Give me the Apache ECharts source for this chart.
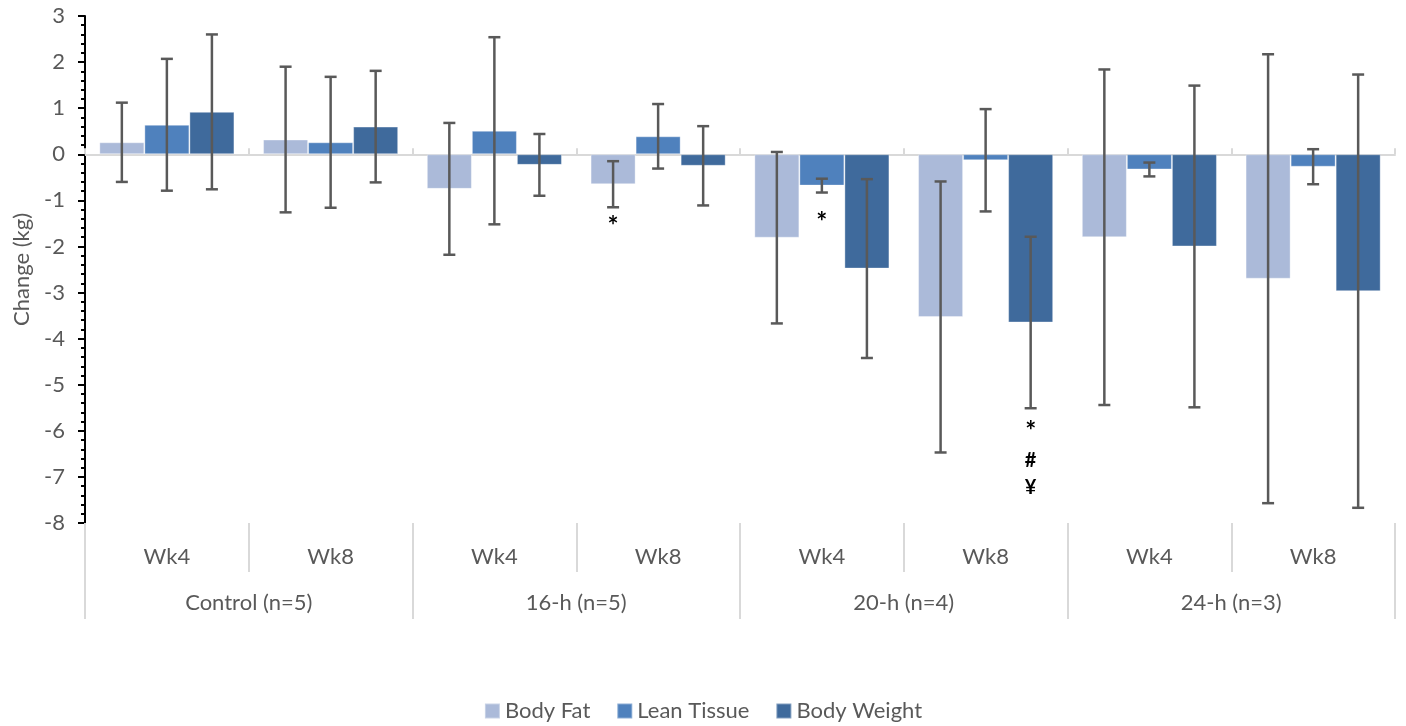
<!DOCTYPE html>
<html><head><meta charset="utf-8">
<script src="https://cdn.jsdelivr.net/npm/echarts@6/dist/echarts.min.js"></script>
<style>html,body{margin:0;padding:0;background:#fff}#c{width:1406px;height:726px}</style>
</head><body><div id="c"></div>
<script>
const weeks = ['Wk4','Wk8','Wk4','Wk8','Wk4','Wk8','Wk4','Wk8'];
const groups = ['Control (n=5)','16-h (n=5)','20-h (n=4)','24-h (n=3)'];
const seriesNames = ['Body Fat','Lean Tissue','Body Weight'];
const bodyFat      = [0.26, 0.32, -0.75, -0.65, -1.81, -3.53, -1.80, -2.70];
const bodyFatSD    = [0.86, 1.58,  1.43,  0.50,  1.86,  2.94,  3.64,  4.87];
const leanTissue   = [0.64, 0.26,  0.51,  0.39, -0.68, -0.13, -0.33, -0.27];
const leanTissueSD = [1.43, 1.42,  2.03,  0.70,  0.15,  1.11,  0.15,  0.38];
const bodyWeight   = [0.92, 0.60, -0.23, -0.25, -2.48, -3.65, -2.00, -2.97];
const bodyWeightSD = [1.68, 1.21,  0.67,  0.86,  1.94,  1.86,  3.49,  4.70];
const yMin = -8, yMax = 3, yStep = 1;
// [category index, series index, text, y value]
const annotations = [
  [3, 0, '*', -1.46],
  [4, 1, '*', -1.36],
  [5, 2, '*', -5.91],
  [5, 2, '#', -6.65],
  [5, 2, '¥', -7.23]
];

const FONT = 'Lato';
const TXT = '#595959';
const colors = ['#abbad9', '#4f81bd', '#3f6a9c'];
const BAR_RATIO = 0.275;
const means = [bodyFat, leanTissue, bodyWeight];
const sds = [bodyFatSD, leanTissueSD, bodyWeightSD];

function errRender(k) {
  return function (params, api) {
    const cat = api.value(0), mean = api.value(1), sd = api.value(2);
    const band = api.size([1, 0])[0];
    const off = (k - 1) * band * BAR_RATIO;
    const top = api.coord([cat, mean + sd]);
    const bot = api.coord([cat, mean - sd]);
    const x = top[0] + off, h = 6;
    const st = { stroke: '#595959', lineWidth: 2.5 };
    return { type: 'group', children: [
      { type: 'line', shape: { x1: x, y1: top[1], x2: x, y2: bot[1] }, style: st },
      { type: 'line', shape: { x1: x - h, y1: top[1], x2: x + h, y2: top[1] }, style: st },
      { type: 'line', shape: { x1: x - h, y1: bot[1], x2: x + h, y2: bot[1] }, style: st }
    ]};
  };
}
function annRender(params, api) {
  const cat = api.value(0), k = api.value(1), yv = api.value(3);
  const band = api.size([1, 0])[0];
  const p = api.coord([cat, yv]);
  const txt = annotations[params.dataIndex][2];
  const isStar = txt === '*';
  const fs = isStar ? 26 : 20;
  const dy = isStar ? fs * 0.2 : 0;
  return { type: 'text', x: p[0] + (k - 1) * band * BAR_RATIO, y: p[1] + dy,
    style: { text: txt, fill: '#000', font: 'bold ' + fs + 'px ' + FONT, align: 'center', verticalAlign: 'middle' } };
}

const series = [];
seriesNames.forEach((n, k) => {
  series.push({ name: n, type: 'bar', xAxisIndex: 0, yAxisIndex: 0, data: means[k],
    barWidth: (BAR_RATIO * 100) + '%', barGap: '0%',
    itemStyle: { color: colors[k], borderColor: 'rgba(255,255,255,0.35)', borderWidth: 1 }, z: 2 });
});
seriesNames.forEach((n, k) => {
  series.push({ type: 'custom', xAxisIndex: 0, yAxisIndex: 0, z: 5, renderItem: errRender(k),
    data: means[k].map((m, i) => [i, m, sds[k][i]]), silent: true });
});
series.push({ type: 'custom', xAxisIndex: 0, yAxisIndex: 0, z: 6, renderItem: annRender,
  data: annotations.map(a => [a[0], a[1], 0, a[3]]), silent: true });

const chart = echarts.init(document.getElementById('c'), null, { renderer: 'canvas' });
chart.setOption({
  animation: false,
  textStyle: { fontFamily: FONT },
  grid: { left: 85, right: 11, top: 16, bottom: 203, containLabel: false },
  legend: { data: seriesNames, top: 695, left: 'center', itemWidth: 15, itemHeight: 15, itemGap: 26,
    icon: 'rect', textStyle: { color: TXT, fontSize: 22, fontFamily: FONT } },
  xAxis: [
    { type: 'category', data: weeks, position: 'bottom', axisLine: { show: false, onZero: false },
      axisTick: { show: true, length: 49, lineStyle: { color: '#d9d9d9', width: 2 } },
      axisLabel: { margin: 23, fontSize: 22, color: TXT, fontFamily: FONT } },
    { type: 'category', data: groups, position: 'bottom', axisLine: { show: false, onZero: false },
      axisTick: { show: true, length: 96, lineStyle: { color: '#d9d9d9', width: 2 } },
      axisLabel: { margin: 69, fontSize: 22, color: TXT, fontFamily: FONT } },
    { type: 'category', data: weeks, position: 'bottom', axisLine: { show: true, onZero: true, lineStyle: { color: '#d9d9d9', width: 2 } },
      axisTick: { show: true, inside: true, length: 6, lineStyle: { color: '#d9d9d9', width: 2 } },
      axisLabel: { show: false } }
  ],
  yAxis: [{
    type: 'value', min: yMin, max: yMax, interval: yStep,
    name: 'Change (kg)', nameLocation: 'middle', nameGap: 52,
    nameTextStyle: { color: TXT, fontSize: 22, fontFamily: FONT },
    axisLine: { show: true, lineStyle: { color: '#000', width: 2 } },
    axisTick: { show: true, length: 7, lineStyle: { color: '#000', width: 2 } },
    minorTick: { show: true, splitNumber: 5, length: 4, lineStyle: { color: '#000', width: 2 } },
    splitLine: { show: false },
    axisLabel: { margin: 20, fontSize: 22, color: TXT, fontFamily: FONT }
  }],
  series: series
});
</script></body></html>
